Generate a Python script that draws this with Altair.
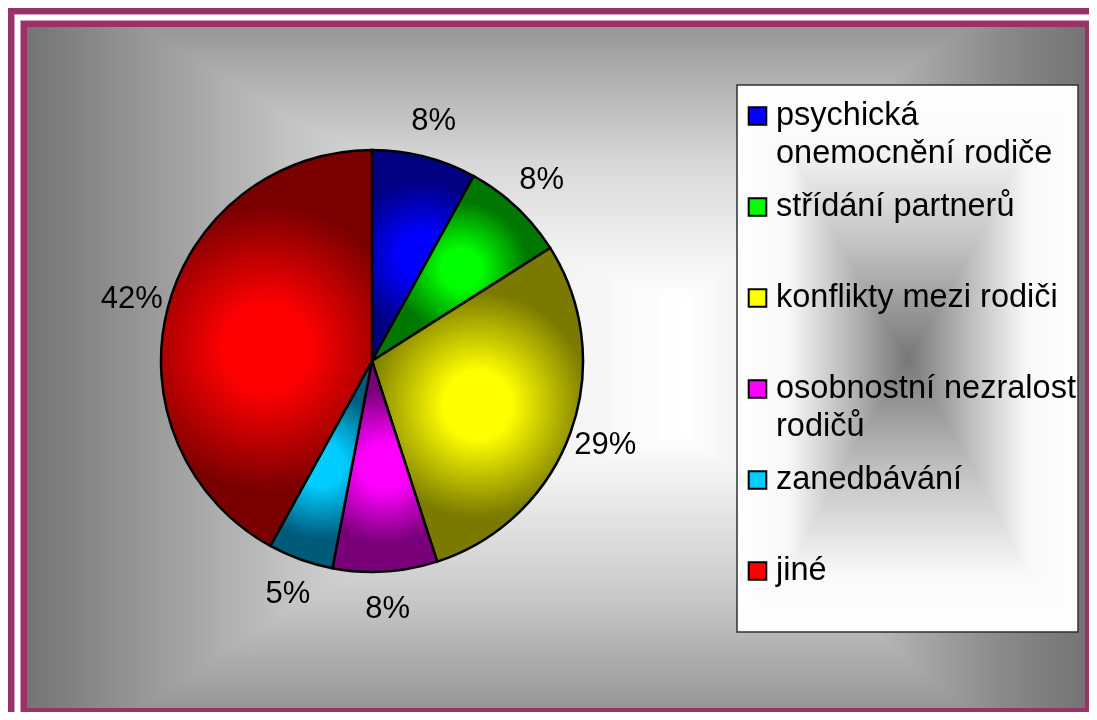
import math
import altair as alt
import pandas as pd

# ---------------- data ----------------
categories = [
    "psychická onemocnění rodiče",
    "střídání partnerů",
    "konflikty mezi rodiči",
    "osobnostní nezralost rodičů",
    "zanedbávání",
    "jiné",
]
values = [8, 8, 29, 8, 5, 42]
legend_labels = [
    "psychická\nonemocnění rodiče",
    "střídání partnerů",
    "konflikty mezi rodiči",
    "osobnostní nezralost\nrodičů",
    "zanedbávání",
    "jiné",
]

# ---------------- styles ----------------
bright = ["#0000ff", "#00ff00", "#ffff00", "#ff00ff", "#00ccff", "#ff0000"]
dark = ["#000080", "#007800", "#7a7a00", "#7a007a", "#005a7a", "#7a0000"]
MAROON = "#993366"
PINK = "#d0a0b8"
FONT = "Liberation Sans"
W, H = 1081, 704
CX, CY, R = 364, 353, 211
LABEL_R = 248

df = pd.DataFrame({
    "cat": categories,
    "value": values,
    "idx": list(range(len(categories))),
    "legend": legend_labels,
})
one = pd.DataFrame({"k": [0]})


def box(x, x2, y, y2, **mark):
    return alt.Chart(one).mark_rect(**mark).encode(
        x=alt.value(x), x2=alt.value(x2), y=alt.value(y), y2=alt.value(y2)
    )


def lin(stops, horizontal=True):
    return {
        "gradient": "linear",
        "x1": 0, "y1": 0,
        "x2": 1 if horizontal else 0,
        "y2": 0 if horizontal else 1,
        "stops": [{"offset": o, "color": c} for o, c in stops],
    }


layers = []

# outer frame (runs off the picture at right/bottom)
layers.append(box(0, W, 0, 6, fill=MAROON))
layers.append(box(0, 6, 0, H, fill=MAROON))
layers.append(box(6, W, 6, 7, fill=PINK))
layers.append(box(6, 7, 6, H, fill=PINK))
# inner frame
layers.append(box(12, 1081, 12, 704, fill=PINK))
layers.append(box(13, 1081, 13, 704, fill=MAROON))

# chart area background: horizontal + vertical gradients combined with darken
bg_h = lin([(0, "#747474"), (0.12, "#9a9a9a"), (0.25, "#c4c4c4"), (0.45, "#eeeeee"),
            (0.62, "#ffffff"), (0.68, "#f2f2f2"), (0.82, "#b0b0b0"), (0.92, "#8a8a8a"),
            (1, "#747474")])
bg_v = lin([(0, "#969696"), (0.09, "#b5b5b5"), (0.2, "#d8d8d8"), (0.4, "#ffffff"),
            (0.6, "#ffffff"), (0.84, "#c8c8c8"), (1, "#969696")], horizontal=False)
layers.append(box(19, 1077, 19, 700, fill=bg_h))
layers.append(box(19, 1077, 19, 700, fill=bg_v, blend="darken"))

# pie
theta_scale = alt.Scale(domain=[0, 1], range=[0, 2 * math.pi])
pie_base = alt.Chart(df).transform_joinaggregate(
    total="sum(value)"
).transform_window(
    cum="sum(value)", sort=[alt.SortField("idx")], frame=[None, 0]
).transform_calculate(
    s="(datum.cum - datum.value) / datum.total",
    e="datum.cum / datum.total",
    m="(datum.cum - datum.value / 2) / datum.total",
    lbl="format(datum.value / datum.total, '.0%')",
)

for i, c in enumerate(categories):
    grad = {
        "gradient": "radial",
        "x1": 0.5, "y1": 0.5, "r1": 0,
        "x2": 0.5, "y2": 0.5, "r2": 0.36,
        "stops": [
            {"offset": 0, "color": bright[i]},
            {"offset": 0.3, "color": bright[i]},
            {"offset": 1, "color": dark[i]},
        ],
    }
    layers.append(
        pie_base.transform_filter(alt.datum.cat == c)
        .mark_arc(fill=grad, stroke="black", strokeWidth=2.5, outerRadius=R)
        .encode(
            theta=alt.Theta("s:Q", scale=theta_scale),
            theta2="e:Q",
            x=alt.value(CX),
            y=alt.value(CY),
        )
    )

layers.append(
    pie_base.mark_text(radius=LABEL_R, fontSize=31, font=FONT, color="black",
                       align="center", baseline="middle")
    .encode(
        theta=alt.Theta("m:Q", scale=theta_scale),
        x=alt.value(CX),
        y=alt.value(CY),
        text="lbl:N",
    )
)

# legend box
lg_h = lin([(0, "#ffffff"), (0.15, "#f8f8f8"), (0.33, "#b8b8b8"), (0.5, "#777777"),
            (0.67, "#b8b8b8"), (0.85, "#f8f8f8"), (1, "#ffffff")])
lg_v = lin([(0, "#ffffff"), (0.1, "#fafafa"), (0.3, "#c0c0c0"), (0.5, "#777777"),
            (0.7, "#c0c0c0"), (0.9, "#fafafa"), (1, "#ffffff")], horizontal=False)
layers.append(box(729, 1070, 77, 624, fill=lg_h))
layers.append(box(729, 1070, 77, 624, fill=lg_v, blend="lighten"))
layers.append(box(729, 1070, 77, 624, fillOpacity=0, stroke="#303030", strokeWidth=1.5))

color_scale = alt.Scale(domain=categories, range=bright)
leg_base = alt.Chart(df).transform_calculate(ly="108 + 91 * datum.idx")
layers.append(
    leg_base.mark_square(size=310, stroke="black", strokeWidth=2, opacity=1)
    .encode(
        x=alt.value(749.5),
        y=alt.Y("ly:Q", scale=None),
        fill=alt.Fill("cat:N", scale=color_scale, legend=None),
    )
)
layers.append(
    leg_base.mark_text(align="left", baseline="alphabetic", fontSize=32.5, font=FONT,
                       color="black", lineBreak="\n", lineHeight=38, dy=9)
    .encode(
        x=alt.value(768),
        y=alt.Y("ly:Q", scale=None),
        text="legend:N",
    )
)

chart = alt.layer(*layers).properties(
    width=W, height=H, padding=0, autosize="none", background="white"
).configure_view(stroke=None)

chart.save("out.html", embed_options={"renderer": "svg", "actions": False})
